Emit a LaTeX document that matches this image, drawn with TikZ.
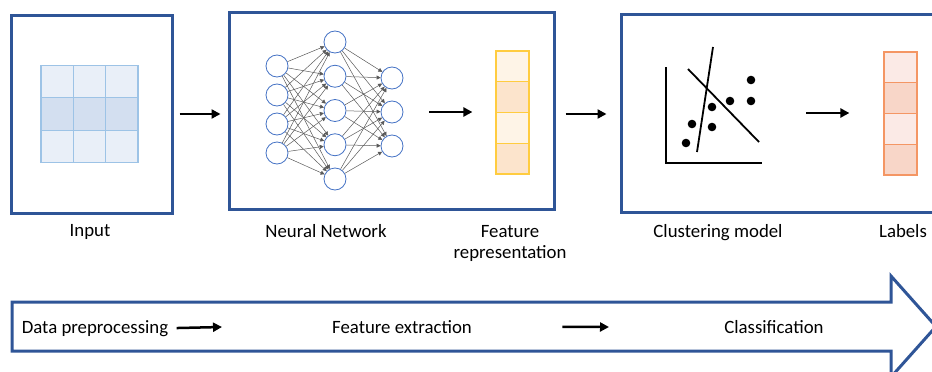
\documentclass[tikz,border=0pt]{standalone}
\usepackage{fontspec}
\setmainfont{Carlito}
\usetikzlibrary{arrows.meta,positioning}

\definecolor{frameblue}{RGB}{47,85,151}
\definecolor{gridline}{RGB}{157,195,230}
\definecolor{gridlight}{RGB}{233,239,248}
\definecolor{griddark}{RGB}{211,223,240}
\definecolor{featline}{RGB}{255,204,64}
\definecolor{featlight}{RGB}{254,244,231}
\definecolor{featdark}{RGB}{252,228,204}
\definecolor{labline}{RGB}{244,150,100}
\definecolor{lablight}{RGB}{251,234,230}
\definecolor{labdark}{RGB}{248,214,200}
\definecolor{neuronblue}{RGB}{68,114,196}

\begin{document}
\begin{tikzpicture}
    [x=1pt, y=-1pt,
      every node/.style={font=\fontsize{18.8}{21}\selectfont},
      frame/.style={draw=frameblue, line width=3pt, inner sep=0pt},
      cell/.style={draw=gridline, line width=1.2pt, minimum size=32.3pt, inner sep=0pt},
      fcell/.style={draw=featline, line width=1.2pt, minimum width=33pt, minimum height=30.75pt, inner sep=0pt},
      lcell/.style={draw=labline, line width=1.2pt, minimum width=33pt, minimum height=30.75pt, inner sep=0pt},
      neuron/.style={circle, draw=neuronblue, line width=0.8pt, minimum size=22pt, inner sep=0pt},
      syn/.style={draw=black!65, line width=0.5pt, -{Triangle[length=4pt,width=4pt]}},
      flow/.style={line width=2.5pt, -{Triangle[length=9pt,width=9pt]}},
      lab/.style={anchor=base, align=center}]
    \clip (0,0) rectangle (932,372);
    \useasboundingbox (0,0) rectangle (932,372);

    % stage frames
    \node[frame, minimum width=161pt, minimum height=198pt] (inbox) at (91.5,114) {};
    \node[frame, minimum width=325pt, minimum height=197pt] (nnbox) at (391.5,110.5) {};
    \node[frame, minimum width=339pt, minimum height=198pt] (clbox) at (790.5,113) {};

    % input grid
    \foreach \r/\shade in {0/gridlight,1/griddark,2/gridlight}
      \foreach \c in {0,1,2}
        \node[cell, fill=\shade] (g\r\c) at (57.2+\c*32.3, 81.3+\r*32.7) {};

    % network
    \foreach \i in {1,...,4}
      \node[neuron] (i\i) at (277, 37+\i*29) {};
    \foreach \i in {1,...,5}
      \node[neuron] (h\i) at (335, 7.75+\i*34.25) {};
    \foreach \i in {1,...,3}
      \node[neuron] (o\i) at (392, 44+\i*34) {};
    \foreach \a in {1,...,4}
      \foreach \b in {1,...,5}
        \draw[syn] (i\a) -- (h\b);
    \foreach \a in {1,...,5}
      \foreach \b in {1,...,3}
        \draw[syn] (h\a) -- (o\b);

    % feature vector and labels
    \foreach \i/\shade in {0/featlight,1/featdark,2/featlight,3/featdark}
      \node[fcell, fill=\shade] (f\i) at (512.5, 66.4+\i*30.75) {};
    \foreach \i/\shade in {0/lablight,1/labdark,2/lablight,3/labdark}
      \node[lcell, fill=\shade] (l\i) at (900.5, 67.4+\i*30.75) {};

    % scatter plot
    \draw[line width=2.8pt] (666,67) -- (666,163) -- (762,163);
    \draw[line width=1.8pt] (713,47) -- (697,152);
    \draw[line width=1.8pt] (688,69) -- (759,142);
    \foreach \p in {(751,80),(751,101),(730,101),(712,107),(712,127),(692,124),(686,143)}
      \fill \p circle (4.3);
    \coordinate (plotR) at (806,113);

    % arrows between stages
    \draw[flow, shorten <=6pt, shorten >=7pt] (inbox.east) -- (inbox.east -| nnbox.west);
    \draw[flow, shorten <=26pt, shorten >=23pt] (o2.east) -- (o2.east -| f1.west);
    \draw[flow, shorten <=10pt, shorten >=13pt] (nnbox.east |- inbox.east) -- (clbox.west |- inbox.east);
    \draw[flow, shorten >=34pt] (plotR) -- (plotR -| l1.west);

    % captions
    \node[lab] (incap) at (90,236) {Input};
    \node[lab] (nncap) at (326,237) {Neural Network};
    \node[lab] (fcap) at (510,258) {Feature\\representation};
    \node[lab] (clcap) at (718,237) {Clustering model};
    \node[lab] (lcap) at (903,237) {Labels};

    % pipeline arrow
    \draw[draw=frameblue, line width=3pt, line join=miter]
      (12,302) -- (891,302) -- (891,276) -- (936,326.5) -- (891,377) -- (891,351) -- (12,351) -- cycle;
    \node[lab] (prep) at (95,333) {Data preprocessing};
    \node[lab] (extr) at (402,333) {Feature extraction};
    \node[lab] (clas) at (774,333) {Classification};
    \coordinate (prepend) at (222,327);
    \coordinate (extrend) at (609,327);
    \draw[flow, shorten <=5pt] (prep.east) -- (prepend);
    \draw[flow, shorten <=87pt] (extr.east) -- (extrend);
\end{tikzpicture}
\end{document}
